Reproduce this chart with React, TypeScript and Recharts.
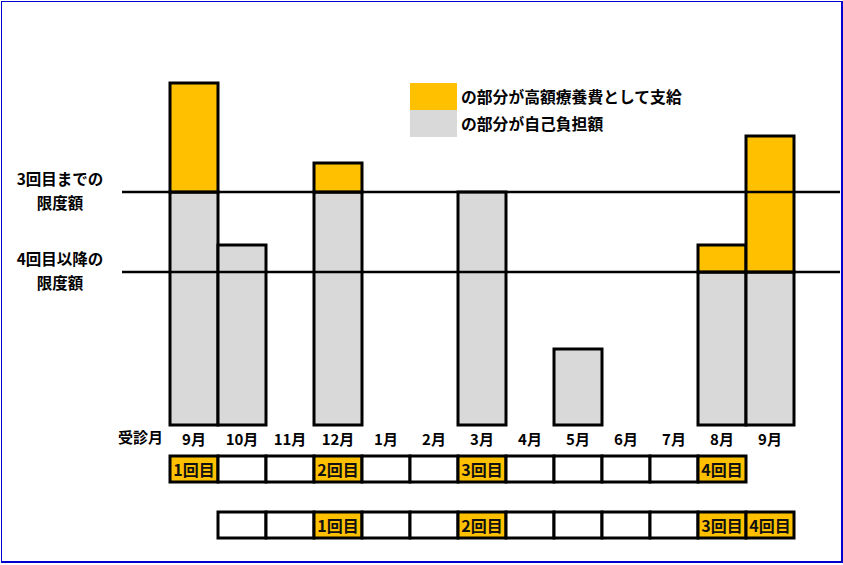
import { Bar, BarChart, Label, ReferenceLine, XAxis, YAxis } from "recharts";

const months = ["9月", "10月", "11月", "12月", "1月", "2月", "3月", "4月", "5月", "6月", "7月", "8月", "9月"];
// gray part: paid by the patient
const selfPay = [233, 180, 0, 233, 0, 0, 233, 0, 76, 0, 0, 153, 153];
// orange part: refunded as high-cost medical expense
const benefit = [109, 0, 0, 29, 0, 0, 0, 0, 0, 0, 0, 27, 136];
const limitUpTo3 = 233;
const limitFrom4 = 153;
const countRow1: (string | null)[] = ["1回目", "", "", "2回目", "", "", "3回目", "", "", "", "", "4回目", null];
const countRow2: (string | null)[] = [null, "", "", "1回目", "", "", "2回目", "", "", "", "", "3回目", "4回目"];

const ORANGE = "#FFC000";
const GRAY = "#D9D9D9";
const FONT = '"Noto Sans CJK JP", "Noto Sans", sans-serif';

const WIDTH = 843;
const HEIGHT = 565;
const BAND = 48;
const LINE_LEFT = 122;
const LINE_RIGHT = 840;

const data = months.map((month, i) => ({
  i,
  month,
  selfPay: selfPay[i],
  benefit: benefit[i],
}));

function CountTick({ x, y, payload, row }: any) {
  const label = row[payload.index];
  if (label === null || label === undefined) return null;
  const top = y + 6;
  return (
    <g>
      <rect
        x={x - BAND / 2}
        y={top}
        width={BAND}
        height={26}
        fill={label ? ORANGE : "#fff"}
        stroke="#000"
        strokeWidth={3}
      />
      {label ? (
        <text
          x={x}
          y={top + 13}
          textAnchor="middle"
          dominantBaseline="central"
          fontSize={16}
          fontWeight={700}
          fill="#111"
        >
          {label}
        </text>
      ) : null}
    </g>
  );
}

function limitShape(lines: string[]) {
  return (props: any) => {
    const y = props.y1;
    return (
      <g>
        <line x1={LINE_LEFT} x2={LINE_RIGHT} y1={y} y2={y} stroke="#000" strokeWidth={2.5} />
        <text x={60} y={y - 14} textAnchor="middle" dominantBaseline="central" fontSize={15.5} fontWeight={700} fill="#000">
          {lines[0]}
        </text>
        <text x={60} y={y + 10} textAnchor="middle" dominantBaseline="central" fontSize={15.5} fontWeight={700} fill="#000">
          {lines[1]}
        </text>
      </g>
    );
  };
}

function LegendBox() {
  const items = [
    { color: ORANGE, text: "の部分が高額療養費として支給" },
    { color: GRAY, text: "の部分が自己負担額" },
  ];
  return (
    <div style={{ position: "absolute", left: 410, top: 83 }}>
      {items.map((item) => (
        <div key={item.text} style={{ display: "flex", alignItems: "center", height: 27 }}>
          <span style={{ width: 47, height: 27, background: item.color, display: "inline-block" }} />
          <span style={{ marginLeft: 4, fontSize: 15.8, fontWeight: 700, color: "#000", whiteSpace: "nowrap" }}>
            {item.text}
          </span>
        </div>
      ))}
    </div>
  );
}

export default function App() {
  return (
    <div
      style={{
        position: "absolute",
        left: 0,
        top: 0,
        width: WIDTH,
        height: HEIGHT,
        background: "#fff",
        fontFamily: FONT,
      }}
    >
      <BarChart
        width={WIDTH}
        height={HEIGHT}
        data={data}
        barCategoryGap={0}
        margin={{ top: 75, right: 49, bottom: 19, left: 170 }}
        style={{ fontFamily: FONT }}
      >
        <YAxis hide domain={[0, 350]} />
        <XAxis
          dataKey="i"
          axisLine={false}
          tickLine={false}
          tickSize={0}
          tickMargin={9}
          height={25}
          interval={0}
          tickFormatter={(v: number) => months[v]}
          tick={{ fill: "#000", fontSize: 15, fontWeight: 700 }}
        >
          <Label value="受診月" position="left" offset={7} fill="#000" fontSize={15} fontWeight={700} />
        </XAxis>
        <XAxis
          xAxisId="row1"
          dataKey="i"
          axisLine={false}
          tickLine={false}
          tickSize={0}
          tickMargin={0}
          height={56}
          interval={0}
          tick={<CountTick row={countRow1} />}
        />
        <XAxis
          xAxisId="row2"
          dataKey="i"
          axisLine={false}
          tickLine={false}
          tickSize={0}
          tickMargin={0}
          height={40}
          interval={0}
          tick={<CountTick row={countRow2} />}
        />
        <Bar dataKey="selfPay" stackId="a" fill={GRAY} stroke="#000" strokeWidth={3} isAnimationActive={false} />
        <Bar dataKey="benefit" stackId="a" fill={ORANGE} stroke="#000" strokeWidth={3} isAnimationActive={false} />
        <ReferenceLine y={limitUpTo3} ifOverflow="visible" shape={limitShape(["3回目までの", "限度額"])} />
        <ReferenceLine y={limitFrom4} ifOverflow="visible" shape={limitShape(["4回目以降の", "限度額"])} />
      </BarChart>
      <LegendBox />
      <div
        style={{
          position: "absolute",
          left: 1,
          top: 1,
          width: 842,
          height: 562,
          boxSizing: "border-box",
          borderStyle: "solid",
          borderColor: "#0000CC",
          borderWidth: "1px 2px 2px 1px",
          pointerEvents: "none",
        }}
      />
    </div>
  );
}
